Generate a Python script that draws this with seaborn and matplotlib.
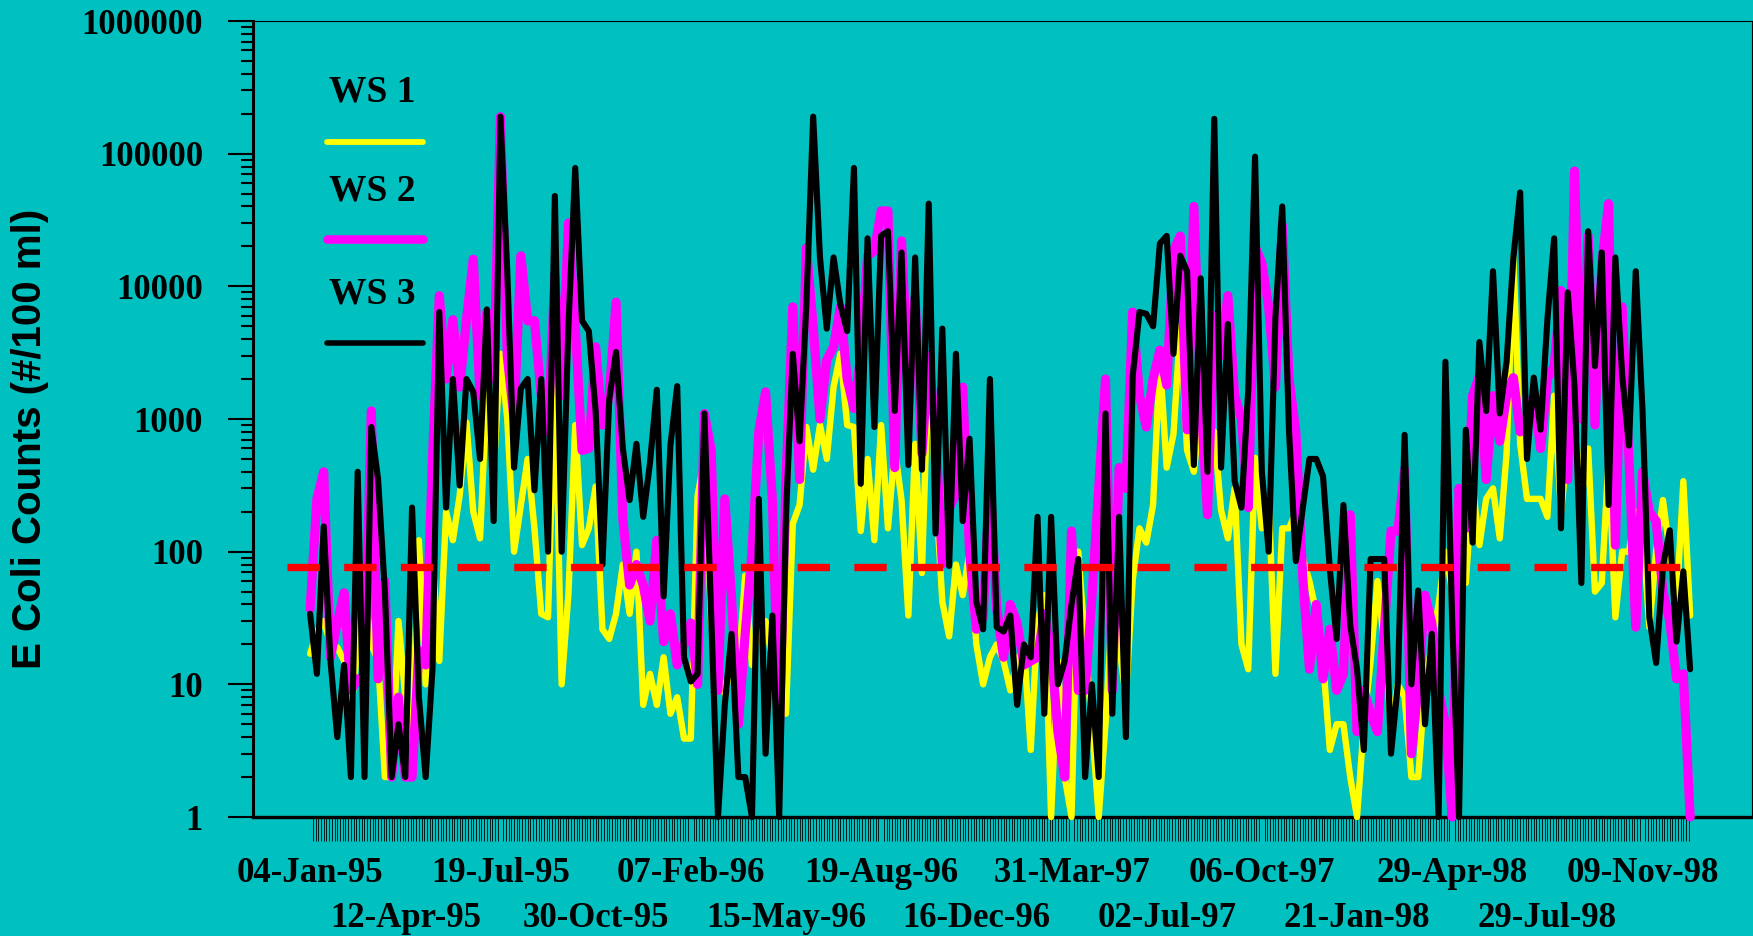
import numpy as np
import pandas as pd
import matplotlib
matplotlib.use("Agg")
import matplotlib.pyplot as plt
import seaborn as sns
from matplotlib.ticker import FixedLocator, FixedFormatter, NullFormatter
from matplotlib.lines import Line2D

# ---------------- data ----------------
date_labels = ["04-Jan-95", "12-Apr-95", "19-Jul-95", "30-Oct-95", "07-Feb-96",
               "15-May-96", "19-Aug-96", "16-Dec-96", "31-Mar-97", "02-Jul-97",
               "06-Oct-97", "21-Jan-98", "29-Apr-98", "29-Jul-98", "09-Nov-98"]
label_step = 14          # samples between labelled categories
standard = 76            # dashed reference level

ws1 = [17, 25, 30, 20, 19, 15, 6, 20, 50, 20, 15, 2, 2, 30, 8, 3.7, 122, 10, 95, 15,
       200, 122, 265, 940, 200, 126, 1660, 400, 3100, 1000, 100,
       225, 500, 150, 34, 32, 2300, 10, 48, 900, 112, 150, 310, 26, 22, 34, 80, 34, 100,
       7, 12, 7, 16, 6, 8, 3.9, 3.9, 265, 500, 30, 12, 8.5, 14, 13, 66, 14, 30,
       30, 15, 20, 6, 162, 225, 870, 415, 900, 500, 1740, 3100, 900, 870, 143, 500, 122,
       900, 150, 600, 245, 33, 650, 69, 3000, 300, 42, 23, 80, 47, 100, 20, 10, 16,
       20, 15, 9, 15, 20, 3.2, 30, 47, 1, 15, 2, 1, 100, 20, 5, 1, 5, 40, 20, 8, 61, 150,
       117, 225, 2800, 430, 770, 5000, 580, 400, 1200, 500, 800, 205,
       126, 300, 20, 13, 510, 150, 250, 12, 150, 150, 200, 90, 60, 35, 15, 3.2, 5, 5, 2,
       1, 5, 15, 60, 20, 5, 10, 8, 2, 2, 10, 20, 40, 100, 50,
       150, 58, 320, 112, 250, 300, 126, 550, 16500, 650, 250, 250, 250, 183, 1500, 200,
       600, 1000, 250, 600, 50, 58, 500, 32, 100, 100, 200, 150, 27, 100, 245, 100, 40,
       340, 33]

ws2 = [37, 250, 400, 16, 29, 49, 9, 11, 11, 1150, 11, 60, 2, 8, 2, 2, 18, 14, 500, 8500,
       2000, 5600, 1740, 5600, 16000, 1500, 6400, 2000, 190000, 3000, 1000,
       17000, 5500, 5500, 1500, 800, 12000, 1500, 30000, 5000, 580, 600, 3500, 900, 1500,
       7600, 176, 56, 80, 56, 30, 122, 21, 34, 14, 20, 29, 10, 1100, 580, 9, 250, 44, 5,
       24, 100, 800,
       1600, 245, 4, 350, 7000, 350, 19500, 5000, 1000, 2800, 3500, 7000, 2000, 1200,
       3000, 17000, 18500, 37000, 37000, 430, 22000, 2000, 8200, 550, 3000, 800, 81, 210,
       275, 1740, 100, 26, 32, 350,
       37, 16, 40, 29, 14, 15, 16, 34, 19, 4.4, 2, 143, 9, 9, 45, 300, 2000, 9, 430, 300,
       6400, 1500, 870, 2000, 3300, 1800, 18500, 24000, 830, 40000, 1500, 190, 6000, 3000,
       8500, 1500, 1000, 215, 20000, 15000, 7000, 1740, 29000, 2000, 800, 66, 13, 40, 11,
       26, 9, 12, 190, 4.4, 9, 6, 4.4, 25, 143, 143, 415, 3, 10, 47, 29, 9, 5, 1,
       300, 150, 1500, 2100, 350, 1500, 680, 1500, 2050, 800, 1000, 1500, 600, 2000, 2500,
       9300, 350, 74000, 1000, 24000, 900, 14500, 42000, 112, 7000, 500, 27, 400, 200,
       170, 50, 30, 11, 12, 1]

ws3 = [34, 12, 155, 15, 4, 14, 2, 400, 2, 870, 350, 50, 2, 5, 2, 215, 8, 2, 13, 6400,
       215, 2000, 315, 2000, 1600, 500, 6700, 170, 190000, 13000, 430,
       1700, 2000, 290, 2000, 100, 48000, 100, 5000, 78000, 5500, 4600, 1150, 80, 1400,
       3200, 600, 245, 650, 183, 470, 1660, 46, 630, 1770, 16, 10.5, 12, 1100, 34, 1, 7,
       24, 2, 2, 1, 250,
       3, 33, 1, 190, 3100, 680, 7300, 190000, 16500, 4800, 16500, 7300, 4600, 78000, 325,
       23000, 870, 24000, 26000, 1150, 18000, 450, 16500, 415, 42000, 137, 4800, 78, 3100,
       170, 710, 42, 26, 2000,
       27, 25, 33, 7, 20, 16, 183, 6, 183, 10, 15, 40, 88, 2, 10, 2, 1100, 6, 183, 4, 2100,
       6400, 6200, 5000, 21000, 24000, 3100, 17000, 13000, 450, 11500, 400, 183000, 430,
       5200, 340, 215, 1650, 95000, 400, 100, 5900, 40000, 800, 85, 210, 500, 500, 370, 74,
       22, 225, 28, 13, 3.2, 88, 88, 88, 3, 10, 760, 10, 51, 5, 24, 1, 2700, 30,
       1, 830, 117, 3800, 1150, 13000, 1100, 2700, 16500, 51000, 500, 2050, 830, 5600,
       23000, 150, 9000, 1740, 58, 26000, 2500, 18000, 225, 16500, 2150, 630, 13000, 1150,
       32, 14.5, 78, 145, 21, 71, 13]

series_names = ["WS 1", "WS 2", "WS 3"]
series_colors = ["#FFFF00", "#FF00FF", "#000000"]
series_widths = [4.6, 6.6, 4.4]

n = len(ws1)
df = pd.DataFrame({"sample": np.arange(n), "WS 1": ws1, "WS 2": ws2, "WS 3": ws3})

# ---------------- figure ----------------
BG = "#00C0C0"
fig = plt.figure(figsize=(17.53, 9.36), dpi=100, facecolor=BG)
ax = fig.add_axes([253 / 1753, 1 - 817 / 936, 1499 / 1753, 796 / 936])
ax.set_facecolor(BG)

for name, col, lw in zip(series_names, series_colors, series_widths):
    sns.lineplot(data=df, x="sample", y=name, color=col, linewidth=lw, ax=ax,
                 legend=False, estimator=None, sort=False,
                 solid_capstyle="round", solid_joinstyle="round", clip_on=False,
                 zorder=3)

# dashed reference line
ax.hlines(standard, -3.4, n - 1, colors="#FF0000", linewidth=5.3,
          linestyles=(0, (4.4, 3.3)), zorder=4)

ax.set_yscale("log")
ax.set_ylim(1, 1e6)
ax.set_xlim(-8.4, n - 1 + 9.1)

serif = "Liberation Serif"
# y axis ticks
ymaj = [1, 10, 100, 1000, 10000, 100000, 1000000]
ax.yaxis.set_major_locator(FixedLocator(ymaj))
ax.yaxis.set_major_formatter(FixedFormatter([str(v) for v in ymaj]))
ymin = [m * 10 ** d for d in range(6) for m in range(2, 10)]
ax.yaxis.set_minor_locator(FixedLocator(ymin))
ax.yaxis.set_minor_formatter(NullFormatter())
ax.tick_params(axis="y", which="major", length=18, width=1.5, direction="out",
               pad=18, colors="black")
ax.tick_params(axis="y", which="minor", length=8.6, width=1.5, direction="out")
for lab in ax.get_yticklabels():
    lab.set_fontfamily(serif)
    lab.set_fontweight("bold")
    lab.set_fontsize(25)

# x axis: first row of labels on the main axis, second row on a secondary axis
row1_pos = [i * label_step for i in range(0, len(date_labels), 2)]
row1_lab = date_labels[0::2]
row2_pos = [i * label_step for i in range(1, len(date_labels), 2)]
row2_lab = date_labels[1::2]

ax.xaxis.set_major_locator(FixedLocator(row1_pos))
ax.xaxis.set_major_formatter(FixedFormatter(row1_lab))
ax.xaxis.set_minor_locator(FixedLocator(np.arange(0, n - 1 + 0.01, 0.4)))
ax.tick_params(axis="x", which="major", length=0, pad=29)
ax.tick_params(axis="x", which="minor", length=17, width=0.6, direction="out")
for lab in ax.get_xticklabels():
    lab.set_fontfamily(serif)
    lab.set_fontweight("bold")
    lab.set_fontsize(25)

sec = ax.secondary_xaxis("bottom")
sec.xaxis.set_major_locator(FixedLocator(row2_pos))
sec.xaxis.set_major_formatter(FixedFormatter(row2_lab))
sec.xaxis.set_minor_locator(FixedLocator([]))
sec.tick_params(axis="x", which="both", length=0, pad=61)
sec.spines["bottom"].set_visible(False)
for lab in sec.get_xticklabels():
    lab.set_fontfamily(serif)
    lab.set_fontweight("bold")
    lab.set_fontsize(25)

ax.set_xlabel("")
ax.set_ylabel("")

for side, w in [("left", 2.2), ("bottom", 2.4), ("top", 0.8), ("right", 0.8)]:
    ax.spines[side].set_color("black")
    ax.spines[side].set_linewidth(w)

fig.text(30 / 1753, 1 - 439 / 936, "E Coli Counts (#/100 ml)", rotation=90,
         ha="center", va="center", fontfamily="Liberation Sans",
         fontweight="bold", fontsize=29)

# manual legend (labels above line samples)
leg_text_y = [0.911, 0.786, 0.657]
leg_line_y = [0.848, 0.726, 0.595]
for name, col, lw, ty, ly in zip(series_names, series_colors, series_widths,
                                 leg_text_y, leg_line_y):
    ax.text(0.0794, ty, name, transform=ax.transAxes, ha="center", va="center",
            fontfamily=serif, fontweight="bold", fontsize=27, zorder=6)
    ax.add_line(Line2D([0.0494, 0.1134], [ly, ly], transform=ax.transAxes,
                       color=col, linewidth=lw - 0.4, solid_capstyle="round",
                       zorder=6))

fig.savefig("out.png", dpi=100, facecolor=BG)
